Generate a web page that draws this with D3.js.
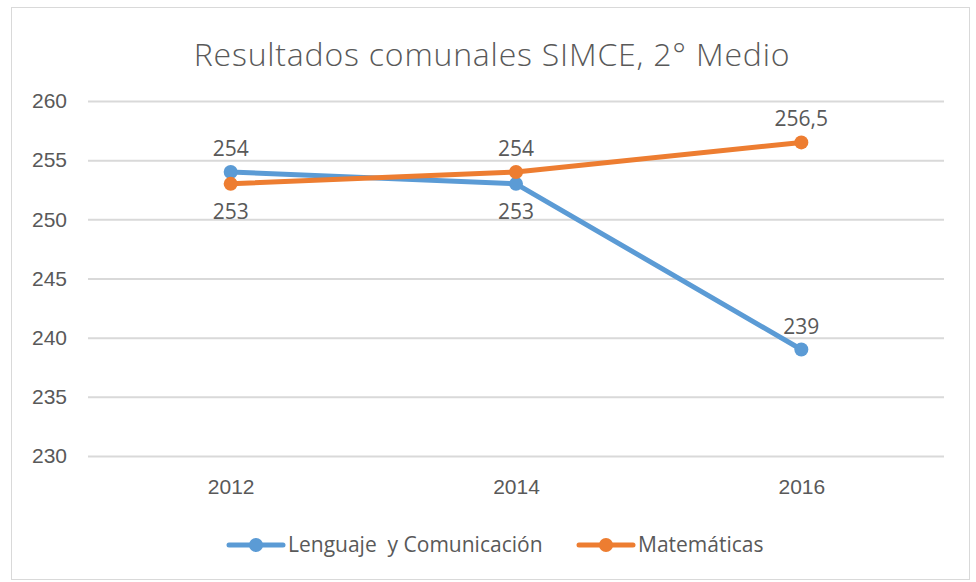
<!DOCTYPE html>
<html>
<head>
<meta charset="utf-8">
<script src="https://cdn.jsdelivr.net/npm/d3@7"></script>
<style>
  body { margin: 0; background: #fff; }
  svg { font-family: "Open Sans", "Liberation Sans", sans-serif; }
</style>
</head>
<body>
<svg id="chart" width="976" height="582"></svg>
<script>
const years = ['2012', '2014', '2016'];
const lenguaje = [254, 253, 239];
const matematicas = [253, 254, 256.5];
const yTicks = [230, 235, 240, 245, 250, 255, 260];
const seriesNames = ['Lenguaje  y Comunicación', 'Matemáticas'];
// label placement for each point, above or below the marker
const lenguajeLabelPos = ['above', 'below', 'above'];
const matematicasLabelPos = ['below', 'above', 'above'];

const width = 976, height = 582;
const margin = {top: 101, right: 32, bottom: 126, left: 88};
const textColor = '#595959';

const svg = d3.select('#chart');

// chart frame
svg.append('rect')
  .attr('x', 11.5).attr('y', 7.5)
  .attr('width', 958).attr('height', 572)
  .attr('fill', '#fff')
  .attr('stroke', '#d9d9d9');

svg.append('text')
  .attr('x', 492).attr('y', 66)
  .attr('text-anchor', 'middle')
  .attr('fill', textColor)
  .style('font-size', '32px')
  .style('font-weight', 300)
  .style('letter-spacing', '0.8px')
  .text('Resultados comunales SIMCE, 2° Medio');

const x = d3.scalePoint()
  .domain(years)
  .range([margin.left, width - margin.right])
  .padding(0.5);

const y = d3.scaleLinear()
  .domain([230, 260])
  .range([height - margin.bottom, margin.top]);

const yAxis = g => g
  .attr('transform', `translate(${margin.left},0)`)
  .call(d3.axisLeft(y).tickValues(yTicks).tickSize(-(width - margin.left - margin.right)).tickPadding(21))
  .call(g => g.select('.domain').remove())
  .call(g => g.selectAll('.tick line').attr('stroke', '#d9d9d9').attr('stroke-width', 2));

const xAxis = g => g
  .attr('transform', `translate(0,${height - margin.bottom})`)
  .call(d3.axisBottom(x).tickSize(0).tickPadding(23))
  .call(g => g.select('.domain').remove());

svg.append('g').attr('class', 'axis').call(yAxis);
svg.append('g').attr('class', 'axis').call(xAxis);

svg.selectAll('.axis .tick text')
  .attr('fill', textColor)
  .style('font-size', '21px');

const series = [
  {name: seriesNames[0], values: lenguaje, pos: lenguajeLabelPos, color: '#5b9bd5'},
  {name: seriesNames[1], values: matematicas, pos: matematicasLabelPos, color: '#ed7d31'}
];

const line = d3.line()
  .x((d, i) => x(years[i]))
  .y(d => y(d));

series.forEach(s => {
  const g = svg.append('g');
  g.append('path')
    .datum(s.values)
    .attr('fill', 'none')
    .attr('stroke', s.color)
    .attr('stroke-width', 5)
    .attr('stroke-linejoin', 'round')
    .attr('d', line);

  g.selectAll('circle').data(s.values)
    .join('circle')
    .attr('cx', (d, i) => x(years[i]))
    .attr('cy', d => y(d))
    .attr('r', 7)
    .attr('fill', s.color);

  g.selectAll('text').data(s.values)
    .join('text')
    .attr('x', (d, i) => x(years[i]))
    .attr('y', (d, i) => y(d) + (s.pos[i] === 'above' ? -16 : 35))
    .attr('text-anchor', 'middle')
    .attr('fill', textColor)
    .style('font-size', '21px')
    .text(d => String(d).replace('.', ','));
});

// legend
const legend = svg.append('g').attr('transform', 'translate(0,545)');
const legendX = [229, 579];
series.forEach((s, i) => {
  const lg = legend.append('g').attr('transform', `translate(${legendX[i]},0)`);
  lg.append('line')
    .attr('x1', 0).attr('x2', 54)
    .attr('stroke', s.color).attr('stroke-width', 5).attr('stroke-linecap', 'round');
  lg.append('circle').attr('cx', 27).attr('r', 7).attr('fill', s.color);
  lg.append('text')
    .attr('x', 59).attr('dy', '0.35em')
    .attr('fill', textColor)
    .style('font-size', '21px')
    .style('white-space', 'pre')
    .text(s.name);
});
</script>
</body>
</html>
